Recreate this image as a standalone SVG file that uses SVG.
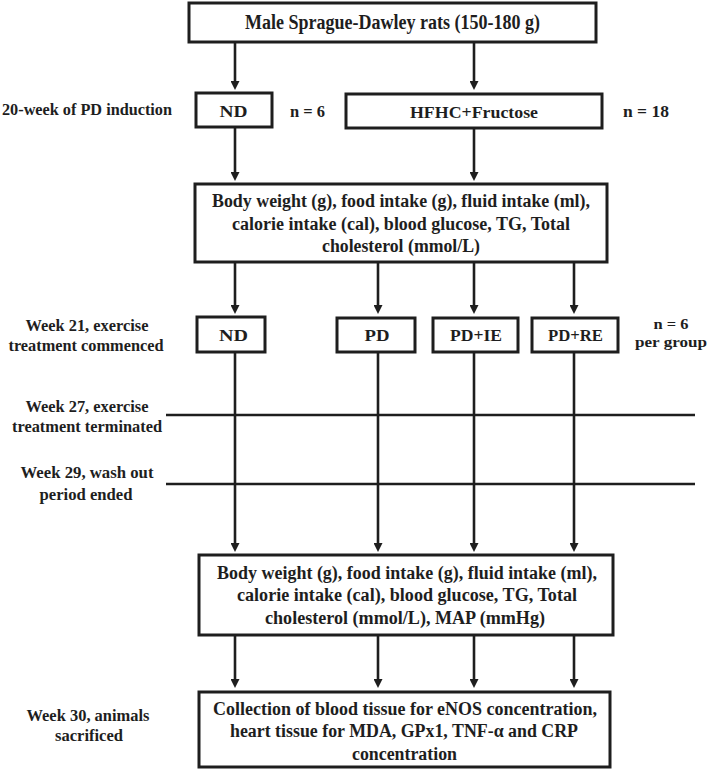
<svg xmlns="http://www.w3.org/2000/svg" width="707" height="769" viewBox="0 0 707 769">
<style>
  .box { fill: #ffffff; stroke: #1e1e1e; stroke-width: 3; }
  .conn { stroke: #1e1e1e; stroke-width: 2.6; fill: none; }
  .arr { marker-end: url(#ah); }
  text { font-family: "Liberation Serif", "Times New Roman", serif; font-weight: bold; fill: #1e1e1e; text-anchor: middle; }
  .t20 { font-size: 20px; }
  .t18 { font-size: 18.5px; }
  .t17 { font-size: 17.5px; }
  .t16 { font-size: 16px; }
  .t15 { font-size: 15px; }
</style>
<defs>
  <marker id="ah" viewBox="0 0 10 10" markerWidth="9" markerHeight="9" markerUnits="userSpaceOnUse" refX="5.6" refY="5" orient="auto">
    <path d="M0,0 L10,5 L0,10 z" fill="#1e1e1e"/>
  </marker>
</defs>
<rect width="707" height="769" fill="#ffffff"/>

<g id="connectors">
  <line class="conn arr" x1="235" y1="42" x2="235" y2="86"/>
  <line class="conn arr" x1="474" y1="42" x2="474" y2="86"/>
  <line class="conn arr" x1="235" y1="127" x2="235" y2="177"/>
  <line class="conn arr" x1="474" y1="128" x2="474" y2="177"/>
  <line class="conn arr" x1="235" y1="262" x2="235" y2="310"/>
  <line class="conn arr" x1="378" y1="262" x2="378" y2="310"/>
  <line class="conn arr" x1="474" y1="262" x2="474" y2="310"/>
  <line class="conn arr" x1="574" y1="262" x2="574" y2="310"/>
  <line class="conn arr" x1="235" y1="352" x2="235" y2="548"/>
  <line class="conn arr" x1="378" y1="352" x2="378" y2="548"/>
  <line class="conn arr" x1="474" y1="352" x2="474" y2="548"/>
  <line class="conn arr" x1="574" y1="352" x2="574" y2="548"/>
  <line class="conn arr" x1="235" y1="635" x2="235" y2="684"/>
  <line class="conn arr" x1="378" y1="635" x2="378" y2="684"/>
  <line class="conn arr" x1="474" y1="635" x2="474" y2="684"/>
  <line class="conn arr" x1="574" y1="635" x2="574" y2="684"/>
  <line class="conn" x1="166" y1="415" x2="695" y2="415"/>
  <line class="conn" x1="166" y1="484" x2="695" y2="484"/>
</g>

<g id="n-start">
  <rect class="box" x="189" y="3" width="407" height="39"/>
  <text class="t20" x="392.5" y="29" textLength="295" lengthAdjust="spacingAndGlyphs">Male Sprague-Dawley rats (150-180 g)</text>
</g>

<g id="label-induction">
  <text class="t16" x="87" y="115" textLength="170" lengthAdjust="spacingAndGlyphs">20-week of PD induction</text>
</g>

<g id="n-nd1">
  <rect class="box" x="196" y="93" width="76" height="34"/>
  <text class="t17" x="233.5" y="117" textLength="28" lengthAdjust="spacingAndGlyphs">ND</text>
</g>
<g id="label-n6a">
  <text class="t16" x="307.5" y="117" textLength="35" lengthAdjust="spacingAndGlyphs">n = 6</text>
</g>

<g id="n-hfhc">
  <rect class="box" x="346" y="94" width="256" height="34"/>
  <text class="t17" x="474" y="118" textLength="128" lengthAdjust="spacingAndGlyphs">HFHC+Fructose</text>
</g>
<g id="label-n18">
  <text class="t16" x="646" y="117" textLength="46" lengthAdjust="spacingAndGlyphs">n = 18</text>
</g>

<g id="n-measure1">
  <rect class="box" x="195" y="184" width="412" height="78"/>
  <text class="t18" x="401" y="207" textLength="378" lengthAdjust="spacingAndGlyphs">Body weight (g), food intake (g), fluid intake (ml),</text>
  <text class="t18" x="401" y="230" textLength="338" lengthAdjust="spacingAndGlyphs">calorie intake (cal), blood glucose, TG, Total</text>
  <text class="t18" x="401" y="252" textLength="158" lengthAdjust="spacingAndGlyphs">cholesterol (mmol/L)</text>
</g>

<g id="label-week21">
  <text class="t16" x="87" y="331" textLength="123" lengthAdjust="spacingAndGlyphs">Week 21, exercise</text>
  <text class="t16" x="86" y="351" textLength="155" lengthAdjust="spacingAndGlyphs">treatment commenced</text>
</g>

<g id="n-nd2">
  <rect class="box" x="197" y="317" width="68" height="35"/>
  <text class="t17" x="233.5" y="341" textLength="29" lengthAdjust="spacingAndGlyphs">ND</text>
</g>
<g id="n-pd">
  <rect class="box" x="337" y="318" width="78" height="34"/>
  <text class="t17" x="377" y="341" textLength="25" lengthAdjust="spacingAndGlyphs">PD</text>
</g>
<g id="n-pdie">
  <rect class="box" x="433" y="318" width="85" height="34"/>
  <text class="t17" x="476" y="341" textLength="52" lengthAdjust="spacingAndGlyphs">PD+IE</text>
</g>
<g id="n-pdre">
  <rect class="box" x="532" y="318" width="86" height="34"/>
  <text class="t17" x="575.5" y="341" textLength="55" lengthAdjust="spacingAndGlyphs">PD+RE</text>
</g>
<g id="label-n6b">
  <text class="t15" x="671" y="329" textLength="35" lengthAdjust="spacingAndGlyphs">n = 6</text>
  <text class="t15" x="671" y="347" textLength="72" lengthAdjust="spacingAndGlyphs">per group</text>
</g>

<g id="label-week27">
  <text class="t16" x="87" y="412" textLength="123" lengthAdjust="spacingAndGlyphs">Week 27, exercise</text>
  <text class="t16" x="87" y="432" textLength="150" lengthAdjust="spacingAndGlyphs">treatment terminated</text>
</g>

<g id="label-week29">
  <text class="t16" x="87" y="478" textLength="133" lengthAdjust="spacingAndGlyphs">Week 29, wash out</text>
  <text class="t16" x="86" y="500" textLength="93" lengthAdjust="spacingAndGlyphs">period ended</text>
</g>

<g id="n-measure2">
  <rect class="box" x="199" y="555" width="414" height="80"/>
  <text class="t18" x="407" y="579" textLength="380" lengthAdjust="spacingAndGlyphs">Body weight (g), food intake (g), fluid intake (ml),</text>
  <text class="t18" x="407" y="601" textLength="340" lengthAdjust="spacingAndGlyphs">calorie intake (cal), blood glucose, TG, Total</text>
  <text class="t18" x="405" y="624" textLength="280" lengthAdjust="spacingAndGlyphs">cholesterol (mmol/L), MAP (mmHg)</text>
</g>

<g id="label-week30">
  <text class="t16" x="88" y="721" textLength="123" lengthAdjust="spacingAndGlyphs">Week 30, animals</text>
  <text class="t16" x="89" y="741" textLength="68" lengthAdjust="spacingAndGlyphs">sacrificed</text>
</g>

<g id="n-collection">
  <rect class="box" x="199" y="692" width="411" height="75"/>
  <text class="t18" x="405" y="715" textLength="384" lengthAdjust="spacingAndGlyphs">Collection of blood tissue for eNOS concentration,</text>
  <text class="t18" x="404" y="737" textLength="348" lengthAdjust="spacingAndGlyphs">heart tissue for MDA, GPx1, TNF-α and CRP</text>
  <text class="t18" x="404.5" y="760" textLength="105" lengthAdjust="spacingAndGlyphs">concentration</text>
</g>
</svg>
